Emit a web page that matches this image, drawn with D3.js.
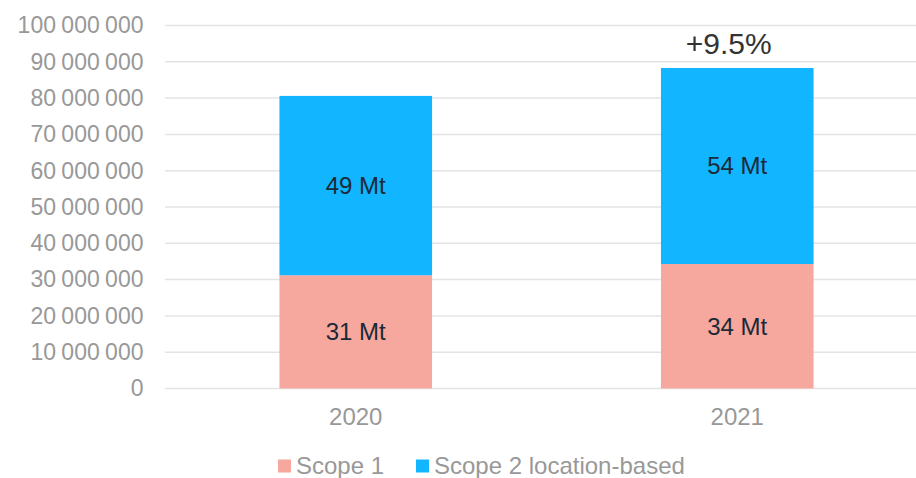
<!DOCTYPE html>
<html>
<head>
<meta charset="utf-8">
<script src="https://cdn.jsdelivr.net/npm/d3@7"></script>
<style>
  html, body { margin: 0; padding: 0; background: #fff; }
  svg { display: block; font-family: "Liberation Sans", Arial, sans-serif; }
</style>
</head>
<body>
<svg id="chart" width="916" height="478"></svg>
<script>
// Emissions by year, tonnes CO2e
const years = ["2020", "2021"];
const scope1 = [31200000, 34300000];
const scope2 = [49400000, 54000000];
const segmentLabels = [["31 Mt", "49 Mt"], ["34 Mt", "54 Mt"]];
const changeLabel = "+9.5%";
const yTicks = [0, 10000000, 20000000, 30000000, 40000000, 50000000,
                60000000, 70000000, 80000000, 90000000, 100000000];
const seriesNames = ["Scope 1", "Scope 2 location-based"];
const seriesColors = ["#F6A89E", "#12B5FF"];

const svg = d3.select("#chart");
const x = d3.scaleBand().domain(years).range([165, 928]).paddingInner(0.6).paddingOuter(0.3);
const y = d3.scaleLinear().domain([0, 100000000]).range([388.5, 25.5]);

const fmt = v => d3.format(",")(v).replace(/,/g, " ");

// horizontal gridlines
svg.append("g")
  .selectAll("line")
  .data(yTicks)
  .join("line")
  .attr("x1", 165).attr("x2", 916)
  .attr("y1", d => y(d)).attr("y2", d => y(d))
  .attr("stroke", "#e4e4e4")
  .attr("stroke-width", 1.5);

// y axis labels
const yAxis = svg.append("g")
  .attr("transform", "translate(143.5,0)")
  .call(d3.axisLeft(y).tickValues(yTicks).tickFormat(fmt).tickSize(0).tickPadding(0));
yAxis.select(".domain").remove();
yAxis.selectAll("text")
  .attr("font-size", 23)
  .attr("font-family", "Liberation Sans, Arial, sans-serif")
  .attr("word-spacing", "-1px")
  .attr("fill", "#989898");

// x axis labels
const xAxis = svg.append("g")
  .attr("transform", "translate(0,388.5)")
  .call(d3.axisBottom(x).tickSize(0).tickPadding(19));
xAxis.select(".domain").remove();
xAxis.selectAll("text")
  .attr("font-size", 24)
  .attr("font-family", "Liberation Sans, Arial, sans-serif")
  .attr("fill", "#989898");

// stacked bars
const rows = years.map((yr, i) => ({ year: yr, s1: scope1[i], s2: scope2[i], idx: i }));
const stack = d3.stack().keys(["s1", "s2"]);
const layers = stack(rows);

layers.forEach((layer, li) => {
  const g = svg.append("g");
  g.selectAll("rect")
    .data(layer)
    .join("rect")
    .attr("x", d => x(d.data.year))
    .attr("width", x.bandwidth())
    .attr("y", d => y(d[1]))
    .attr("height", d => y(d[0]) - y(d[1]))
    .attr("fill", seriesColors[li]);
  g.selectAll("text")
    .data(layer)
    .join("text")
    .attr("x", d => x(d.data.year) + x.bandwidth() / 2)
    .attr("y", d => (y(d[0]) + y(d[1])) / 2)
    .attr("dy", "0.35em")
    .attr("text-anchor", "middle")
    .attr("font-size", 24)
    .attr("fill", "#1b2a38")
    .text(d => segmentLabels[d.data.idx][li]);
});

// year-over-year change above the latest bar
const last = rows[rows.length - 1];
svg.append("text")
  .attr("x", x(last.year) + x.bandwidth() / 2 - 8.5)
  .attr("y", y(last.s1 + last.s2) - 13.5)
  .attr("text-anchor", "middle")
  .attr("font-size", 30)
  .attr("fill", "#333333")
  .text(changeLabel);

// legend
const legend = svg.append("g").attr("transform", "translate(278,466)");
const legendX = [0, 138];
seriesNames.forEach((name, i) => {
  const item = legend.append("g").attr("transform", `translate(${legendX[i]},0)`);
  item.append("rect")
    .attr("x", 0).attr("y", -6.5)
    .attr("width", 13).attr("height", 13)
    .attr("fill", seriesColors[i]);
  item.append("text")
    .attr("x", 18).attr("y", 0)
    .attr("dy", "0.35em")
    .attr("font-size", 24)
    .attr("fill", "#989898")
    .text(name);
});
</script>
</body>
</html>
